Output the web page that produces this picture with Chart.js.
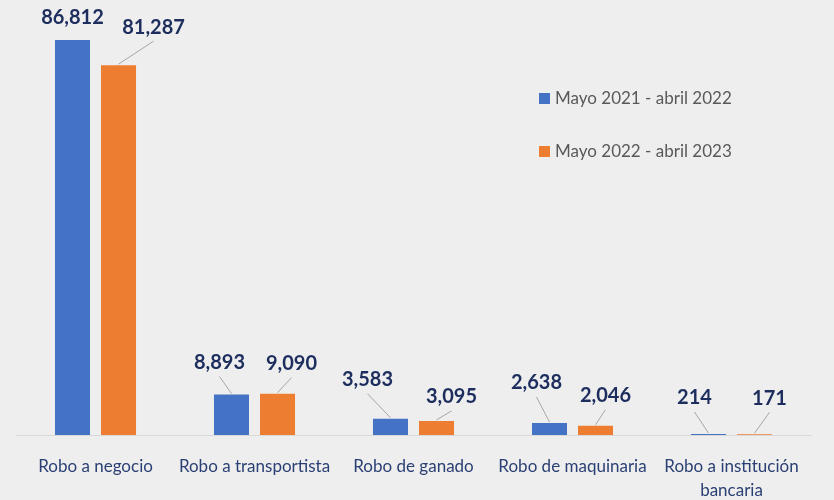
<!DOCTYPE html>
<html>
<head>
<meta charset="utf-8">
<script src="https://cdn.jsdelivr.net/npm/chart.js@4/dist/chart.umd.min.js"></script>
<style>
  html, body { margin: 0; padding: 0; background: #eeeeee; }
  #wrap { width: 834px; height: 500px; position: relative; }
</style>
</head>
<body>
<div id="wrap"><canvas id="c" width="834" height="500"></canvas></div>
<script>
const categories = [
  "Robo a negocio",
  "Robo a transportista",
  "Robo de ganado",
  "Robo de maquinaria",
  ["Robo a institución", "bancaria"]
];
const seriesNames = ["Mayo 2021 - abril 2022", "Mayo 2022 - abril 2023"];
const values2021 = [86812, 8893, 3583, 2638, 214];
const values2022 = [81287, 9090, 3095, 2046, 171];

// label placement relative to bar top-centre: [dx, dy, leaderLine]
const labelOffsets = [
  [[0, -22, false], [-12, -32, true], [-23, -39, true], [-13, -40, true], [-14, -36, true]],
  [[35, -38, true], [14, -30, true], [15, -24, true], [10, -30, true], [15, -36, true]]
];

const fmt = v => v.toLocaleString('en-US');

const dataLabelPlugin = {
  id: 'dataLabels',
  afterDatasetsDraw(chart) {
    const ctx = chart.ctx;
    ctx.save();
    chart.data.datasets.forEach((ds, di) => {
      const meta = chart.getDatasetMeta(di);
      meta.data.forEach((bar, i) => {
        const [dx, dy, leader] = labelOffsets[di][i];
        const lx = bar.x + dx, ly = bar.y + dy;
        if (leader) {
          ctx.strokeStyle = '#a6a6a6';
          ctx.lineWidth = 1;
          ctx.beginPath();
          ctx.moveTo(lx, ly + 14);
          ctx.lineTo(bar.x, bar.y - 1);
          ctx.stroke();
        }
        ctx.font = 'bold 20px Lato, "Open Sans", sans-serif';
        ctx.fillStyle = '#1c2d5e';
        ctx.textAlign = 'center';
        ctx.textBaseline = 'middle';
        ctx.fillText(fmt(ds.data[i]), lx, ly);
      });
    });
    ctx.restore();
  }
};

const customLegend = {
  id: 'customLegend',
  afterDraw(chart) {
    const ctx = chart.ctx;
    ctx.save();
    chart.data.datasets.forEach((ds, di) => {
      const y = 99 + di * 53;
      ctx.fillStyle = ds.backgroundColor;
      ctx.fillRect(539, y - 6, 11, 11);
      ctx.font = '17px Lato, "Open Sans", sans-serif';
      ctx.fillStyle = '#595959';
      ctx.textAlign = 'left';
      ctx.textBaseline = 'middle';
      ctx.fillText(ds.label, 555, y);
    });
    ctx.restore();
  }
};

const bgPlugin = {
  id: 'bg',
  beforeDraw(chart) {
    const ctx = chart.ctx;
    ctx.save();
    ctx.fillStyle = '#eeeeee';
    ctx.fillRect(0, 0, chart.width, chart.height);
    ctx.restore();
  }
};

new Chart(document.getElementById('c'), {
  type: 'bar',
  data: {
    labels: categories,
    datasets: [
      { label: seriesNames[0], data: values2021, backgroundColor: '#4472c4' },
      { label: seriesNames[1], data: values2022, backgroundColor: '#ed7d31' }
    ]
  },
  options: {
    responsive: false,
    animation: false,
    devicePixelRatio: 1,
    layout: { padding: { top: 25.5, left: 16, right: 23, bottom: 0 } },
    datasets: { bar: { categoryPercentage: 0.579, barPercentage: 0.761 } },
    plugins: { legend: { display: false }, tooltip: { enabled: false } },
    scales: {
      x: {
        grid: { display: false },
        border: { display: true, color: '#d9d9d9', width: 1 },
        afterFit(scale) { scale.height = 65; },
        ticks: {
          color: '#2a3f73',
          font: { family: 'Lato, "Open Sans", sans-serif', size: 17, lineHeight: 1.45 },
          padding: 11,
          maxRotation: 0,
          autoSkip: false
        }
      },
      y: { display: false, min: 0, max: 90000 }
    }
  },
  plugins: [bgPlugin, dataLabelPlugin, customLegend]
});
</script>
</body>
</html>
